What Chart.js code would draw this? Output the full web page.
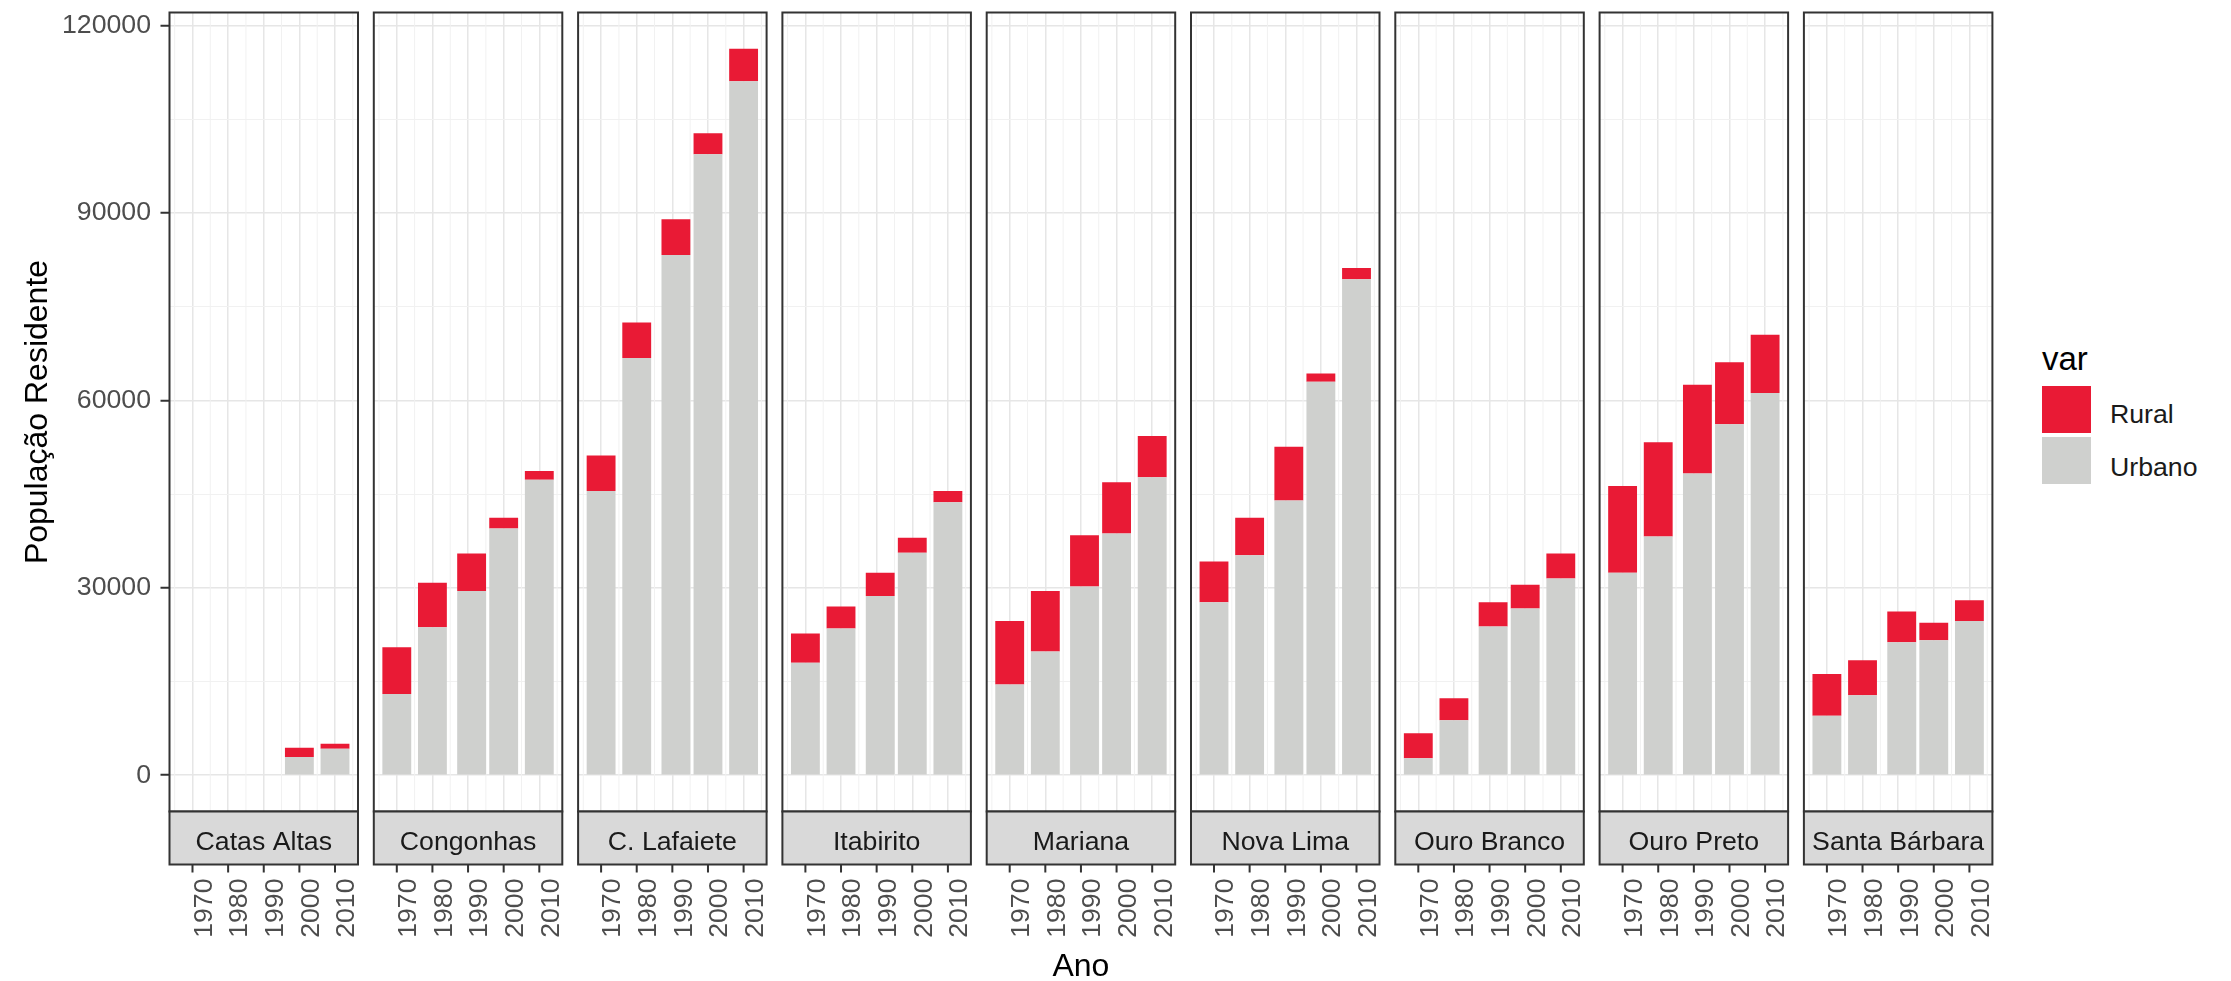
<!DOCTYPE html>
<html><head><meta charset="utf-8">
<script src="https://cdn.jsdelivr.net/npm/chart.js@4"></script>
<style>
html,body{margin:0;padding:0;background:#fff;width:2231px;height:981px;overflow:hidden;font-family:'Liberation Sans',Arial,sans-serif}
#wrap{position:absolute;left:0;top:0;width:2231px;height:981px}
canvas{position:absolute;top:0}
.lg{position:absolute;white-space:nowrap;line-height:1}
.key{position:absolute;width:49px;height:47px}
</style></head><body>
<div id="wrap"></div>
<div id="legend"></div>
<script>
// ---- data ----
const years = [1970, 1980, 1991, 2000, 2010];
const municipios = ['Catas Altas', 'Congonhas', 'C. Lafaiete', 'Itabirito', 'Mariana', 'Nova Lima', 'Ouro Branco', 'Ouro Preto', 'Santa Bárbara'];
const urbanoCatasAltas   = [null, null, null, 2900, 4250];
const ruralCatasAltas    = [null, null, null, 1500, 800];
const urbanoCongonhas    = [13000, 23700, 29500, 39500, 47300];
const ruralCongonhas     = [7500, 7100, 6000, 1700, 1400];
const urbanoLafaiete     = [45500, 66800, 83300, 99400, 111100];
const ruralLafaiete      = [5700, 5700, 5700, 3400, 5200];
const urbanoItabirito    = [18000, 23500, 28700, 35600, 43700];
const ruralItabirito     = [4700, 3500, 3700, 2400, 1800];
const urbanoMariana      = [14500, 19800, 30200, 38700, 47700];
const ruralMariana       = [10200, 9700, 8200, 8200, 6600];
const urbanoNovaLima     = [27700, 35200, 44000, 63000, 79400];
const ruralNovaLima      = [6500, 6000, 8600, 1300, 1800];
const urbanoOuroBranco   = [2700, 8800, 23800, 26700, 31500];
const ruralOuroBranco    = [4000, 3500, 3900, 3800, 4000];
const urbanoOuroPreto    = [32400, 38200, 48300, 56200, 61200];
const ruralOuroPreto     = [13900, 15100, 14200, 9900, 9300];
const urbanoSantaBarbara = [9500, 12800, 21300, 21600, 24700];
const ruralSantaBarbara  = [6700, 5600, 4900, 2800, 3300];
const urbano = [urbanoCatasAltas, urbanoCongonhas, urbanoLafaiete, urbanoItabirito, urbanoMariana, urbanoNovaLima, urbanoOuroBranco, urbanoOuroPreto, urbanoSantaBarbara];
const rural  = [ruralCatasAltas, ruralCongonhas, ruralLafaiete, ruralItabirito, ruralMariana, ruralNovaLima, ruralOuroBranco, ruralOuroPreto, ruralSantaBarbara];
const xTickLabels = [1970, 1980, 1990, 2000, 2010];
const xMinorBreaks = [1965, 1975, 1985, 1995, 2005, 2015];
const yTickLabels = [0, 30000, 60000, 90000, 120000];
const yMinorBreaks = [15000, 45000, 75000, 105000];
const seriesNames = ['Urbano', 'Rural'];
const legendTitle = 'var';
const yTitle = 'População Residente';
const xTitle = 'Ano';

// ---- style / layout ----
const RED = '#E91A35', GRAY = '#CFD0CE';
const MAJOR = '#e6e6e6', MINOR = '#f1f1f1';
const FONT = "'Liberation Sans', Arial, sans-serif";
const H = 981, PANEL_L0 = 169.5, PITCH = 204.3, PANEL_W = 188.5, PANEL_TOP = 12.5, PANEL_BOTTOM = 811.5, STRIP_H = 53;
Chart.defaults.font.family = FONT;

// ggplot-like scale limits derived from data
let maxTotal = 0;
urbano.forEach((u, i) => u.forEach((v, k) => { if (v != null) maxTotal = Math.max(maxTotal, v + rural[i][k]); }));
const yMin = -0.05 * maxTotal, yMax = 1.05 * maxTotal;
let minGap = Infinity;
for (let k = 1; k < years.length; k++) minGap = Math.min(minGap, years[k] - years[k - 1]);
const half = 0.45 * minGap;
const lo = years[0] - half, hi = years[years.length - 1] + half;
const xMin = lo - 0.05 * (hi - lo), xMax = hi + 0.05 * (hi - lo);
const yAll = yTickLabels.concat(yMinorBreaks).sort((a, b) => a - b);

const facetPlugin = {
  id: 'facet',
  beforeDatasetsDraw(chart) {
    const {ctx, chartArea: a} = chart; const x = chart.scales.x;
    ctx.save(); ctx.strokeStyle = MINOR; ctx.lineWidth = 1;
    xMinorBreaks.forEach(v => {
      const px = x.getPixelForValue(v);
      if (px > a.left && px < a.right) { ctx.beginPath(); ctx.moveTo(px, a.top); ctx.lineTo(px, a.bottom); ctx.stroke(); }
    });
    ctx.restore();
  },
  afterDraw(chart, args, opts) {
    const {ctx, chartArea: a} = chart; const x = chart.scales.x;
    ctx.save();
    ctx.lineWidth = 2; ctx.strokeStyle = '#333333';
    ctx.strokeRect(a.left, a.top, a.right - a.left, a.bottom - a.top);
    ctx.fillStyle = '#d9d9d9';
    ctx.fillRect(a.left, a.bottom, a.right - a.left, STRIP_H);
    ctx.strokeRect(a.left, a.bottom, a.right - a.left, STRIP_H);
    ctx.fillStyle = '#1a1a1a'; ctx.font = '26.7px ' + FONT; ctx.textAlign = 'center'; ctx.textBaseline = 'alphabetic';
    ctx.fillText(opts.label, (a.left + a.right) / 2, a.bottom + 38.5);
    ctx.beginPath();
    xTickLabels.forEach(v => { const px = x.getPixelForValue(v); ctx.moveTo(px, a.bottom + STRIP_H); ctx.lineTo(px, a.bottom + STRIP_H + 8); });
    ctx.stroke();
    ctx.restore();
  }
};

function makeChart(i) {
  const isFirst = i === 0, isMid = i === 4;
  const left = PANEL_L0 + i * PITCH;
  const canvasLeft = isFirst ? 0 : Math.floor(left) - 20;
  const W = isFirst ? 400 : 250;
  const padL = isFirst ? 0 : left - canvasLeft;
  const padR = W - (left - canvasLeft) - PANEL_W;
  const c = document.createElement('canvas');
  c.width = W; c.height = H; c.style.left = canvasLeft + 'px';
  c.style.width = W + 'px'; c.style.height = H + 'px';
  document.getElementById('wrap').appendChild(c);
  const isMajorY = ctx => ctx.tick && yTickLabels.includes(ctx.tick.value);
  new Chart(c, {
    type: 'bar',
    data: {
      datasets: [
        {label: seriesNames[0], data: years.map((yr, k) => ({x: yr, y: urbano[i][k]})), backgroundColor: GRAY, borderWidth: 0, categoryPercentage: 1, barPercentage: 0.9},
        {label: seriesNames[1], data: years.map((yr, k) => ({x: yr, y: rural[i][k]})), backgroundColor: RED, borderWidth: 0, categoryPercentage: 1, barPercentage: 0.9}
      ]
    },
    options: {
      responsive: false, animation: false, devicePixelRatio: 1,
      layout: {padding: {left: padL, right: padR, top: PANEL_TOP, bottom: 0}},
      plugins: {legend: {display: false}, tooltip: {enabled: false}, facet: {label: municipios[i]}},
      scales: {
        x: {
          type: 'linear', stacked: true, offset: false, min: xMin, max: xMax,
          afterBuildTicks: s => { s.ticks = xTickLabels.map(v => ({value: v})); },
          afterFit: s => { s.height = H - PANEL_BOTTOM; s.paddingLeft = 0; s.paddingRight = 0; },
          grid: {offset: false, drawTicks: false, color: MAJOR, lineWidth: 1.5},
          border: {display: false},
          ticks: {autoSkip: false, minRotation: 90, maxRotation: 90, padding: 67, labelOffset: 12, color: '#4d4d4d', font: {size: 26.7}, callback: v => String(v)},
          title: {display: isMid, text: xTitle, color: '#000', font: {size: 32}, padding: {top: 0, bottom: -5}}
        },
        y: {
          type: 'linear', stacked: true, min: yMin, max: yMax,
          afterBuildTicks: s => { s.ticks = yAll.map(v => ({value: v})); },
          afterFit: s => { s.width = isFirst ? PANEL_L0 : 0; s.paddingTop = 0; s.paddingBottom = 0; },
          grid: {
            drawTicks: isFirst, tickLength: 9, tickWidth: 2,
            tickColor: ctx => isMajorY(ctx) ? '#333333' : 'rgba(0,0,0,0)',
            color: ctx => isMajorY(ctx) ? MAJOR : MINOR,
            lineWidth: ctx => isMajorY(ctx) ? 1.5 : 1
          },
          border: {display: false},
          ticks: {display: isFirst, autoSkip: false, padding: 9.5, color: '#4d4d4d', font: {size: 26.7}, callback: v => yTickLabels.includes(v) ? String(v) : ''},
          title: {display: isFirst, text: yTitle, color: '#000', font: {size: 32}, padding: {top: 19, bottom: 0}}
        }
      }
    },
    plugins: [facetPlugin]
  });
}
municipios.forEach((m, i) => makeChart(i));

// legend (ggplot style, right side)
const lg = document.getElementById('legend');
lg.innerHTML =
  '<div class="lg" style="left:2042px;top:342px;font-size:33px;color:#000">' + legendTitle + '</div>' +
  '<div class="key" style="left:2042px;top:386px;background:' + RED + '"></div>' +
  '<div class="key" style="left:2042px;top:437px;background:' + GRAY + '"></div>' +
  '<div class="lg" style="left:2110px;top:400.6px;font-size:26.7px;color:#1a1a1a">' + seriesNames[1] + '</div>' +
  '<div class="lg" style="left:2110px;top:454.3px;font-size:26.7px;color:#1a1a1a">' + seriesNames[0] + '</div>';
</script>
</body></html>
